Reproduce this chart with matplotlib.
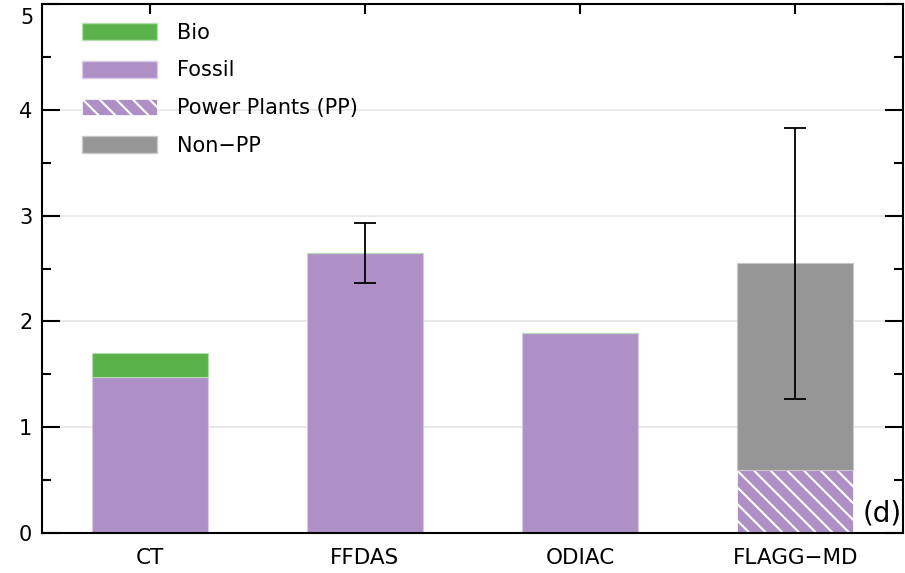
import numpy as np
import matplotlib
matplotlib.use("Agg")
import matplotlib.pyplot as plt
from matplotlib.patches import Patch
from matplotlib.ticker import MultipleLocator

# data
products = ["CT", "FFDAS", "ODIAC", "FLAGG\u2212MD"]
fossil = [1.47, 2.65, 1.89, 0.0]
bio = [0.23, 0.0, 0.0, 0.0]
power_plants = [0.0, 0.0, 0.0, 0.60]
non_pp = [0.0, 0.0, 0.0, 1.95]
err_low = [np.nan, 2.36, np.nan, 1.27]
err_high = [np.nan, 2.93, np.nan, 3.83]
yticks = [0, 1, 2, 3, 4, 5]

green = "#5ab24a"
purple = "#af90c6"
grey = "#969696"

plt.rcParams["font.family"] = "DejaVu Sans"
plt.rcParams["hatch.linewidth"] = 1.5
plt.rcParams["hatch.color"] = "white"

fig = plt.figure(figsize=(9.05, 5.73), dpi=100)
ax = fig.add_axes([42 / 905, 40 / 573, 861 / 905, 529 / 573])

x = np.arange(len(products))
w = 0.54
fossil = np.array(fossil)
bio = np.array(bio)
pp = np.array(power_plants)
npp = np.array(non_pp)

ax.bar(x, fossil, w, color=purple, edgecolor="#d9c9e4", linewidth=0.8, zorder=2)
ax.bar(x, bio, w, bottom=fossil, color=green, edgecolor="#b5dcae", linewidth=0.8, zorder=2)
ax.bar(x, pp, w, color=purple, edgecolor="white", linewidth=0.5, hatch="\\\\", zorder=2)
ax.bar(x, npp, w, bottom=pp, color=grey, edgecolor="#c8c8c8", linewidth=0.8, zorder=2)

# error bars (ranges)
lo = np.array(err_low)
hi = np.array(err_high)
mid = (lo + hi) / 2
ax.errorbar(x, mid, yerr=(hi - lo) / 2, fmt="none", ecolor="black",
            elinewidth=1.3, capsize=8, capthick=1.3, zorder=3)

ax.set_xlim(-0.5, 3.5)
ax.set_ylim(0, 5)
ax.set_xticks(x)
ax.set_xticklabels(products, fontsize=15.5)
ax.set_yticks(yticks)
# top label is drawn separately so it is not cut off at the figure edge
ax.set_yticklabels([str(v) for v in yticks[:-1]] + [""])
ax.yaxis.set_minor_locator(MultipleLocator(0.5))
ax.tick_params(axis="y", which="major", direction="in", length=13, width=1.5,
               labelsize=15, right=True, pad=7)
ax.tick_params(axis="y", which="minor", direction="in", length=6.5, width=1.5, right=True)
ax.tick_params(axis="x", which="major", direction="in", length=7, width=1.5,
               top=True, pad=11)
for s in ax.spines.values():
    s.set_linewidth(1.5)

ax.text(-0.5, yticks[-1], str(yticks[-1]), fontsize=15, ha="right", va="top",
        transform=ax.transData + matplotlib.transforms.ScaledTranslation(-6 / 72, -3 / 72, fig.dpi_scale_trans))

for yv in [1, 2, 3, 4]:
    ax.axhline(yv, color="#e6e6e6", linewidth=1.2, zorder=0)

handles = [
    Patch(facecolor=green, edgecolor="#b5dcae", label="Bio"),
    Patch(facecolor=purple, edgecolor="#d9c9e4", label="Fossil"),
    Patch(facecolor=purple, edgecolor="white", linewidth=0.5, hatch="\\\\", label="Power Plants (PP)"),
    Patch(facecolor=grey, edgecolor="#c8c8c8", label="Non\u2212PP"),
]
leg = ax.legend(handles=handles, loc="upper left", frameon=False, fontsize=15,
                handlelength=3.6, handleheight=0.85, labelspacing=0.85,
                handletextpad=0.95, bbox_to_anchor=(0.025, 1.0))

ax.text(0.999, 0.01, "(d)", transform=ax.transAxes, ha="right", va="bottom",
        fontsize=20)

fig.savefig("out.png", dpi=100)
